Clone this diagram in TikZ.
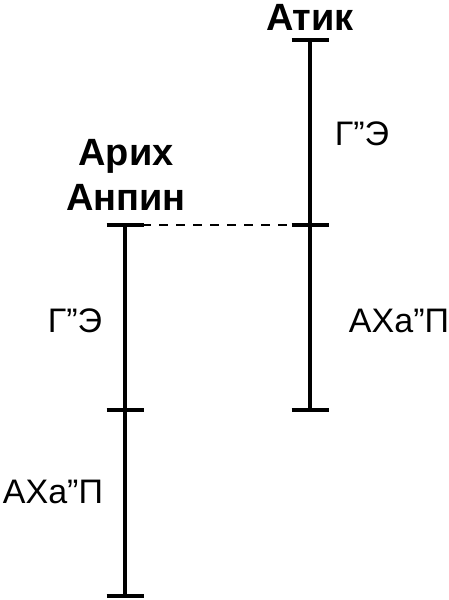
\documentclass[tikz,border=0pt]{standalone}
\usepackage{fontspec}
\setmainfont{Liberation Sans}
\usetikzlibrary{calc, positioning}

\begin{document}
\begin{tikzpicture}[x=1pt, y=-1pt,
    scaleline/.style={line width=4pt},
    notch/.style={line width=3.6pt},
    levelname/.style={font=\fontsize{34}{40}\selectfont, inner sep=0pt, anchor=base},
    partzuf/.style={font=\bfseries\fontsize{38}{45}\selectfont, inner sep=0pt, anchor=base, align=center}]
  \useasboundingbox (0,0) rectangle (449,600);
  % right scale
  \coordinate (atik top) at (310,40);
  \coordinate (atik mid) at (310,225);
  \coordinate (atik bot) at (310,410);
  % left scale
  \coordinate (arikh top) at (125,225);
  \coordinate (arikh mid) at (125,410);
  \coordinate (arikh bot) at (125,596);
  \draw[scaleline] (atik top) -- (atik bot);
  \draw[scaleline] (arikh top) -- (arikh bot);
  \foreach \p in {atik top, atik mid, atik bot, arikh top, arikh mid, arikh bot}{
    \draw[notch] ($(\p)+(-18.5,0)$) -- ($(\p)+(18.5,0)$);
  }
  \draw[line width=1.3pt, dash pattern=on 9pt off 8pt] (arikh top) -- (atik mid);
  \node[partzuf] (atik) at (310,30) {Атик};
  \node[partzuf] (arikh) at (126,210) {Арих\\Анпин};
  \node[levelname] (ge right) at (362,145) {Г”Э};
  \node[levelname] (ahap right) at (399,332) {АХа”П};
  \node[levelname] (ge left) at (75,332) {Г”Э};
  \node[levelname] (ahap left) at (53,503) {АХа”П};
\end{tikzpicture}
\end{document}
